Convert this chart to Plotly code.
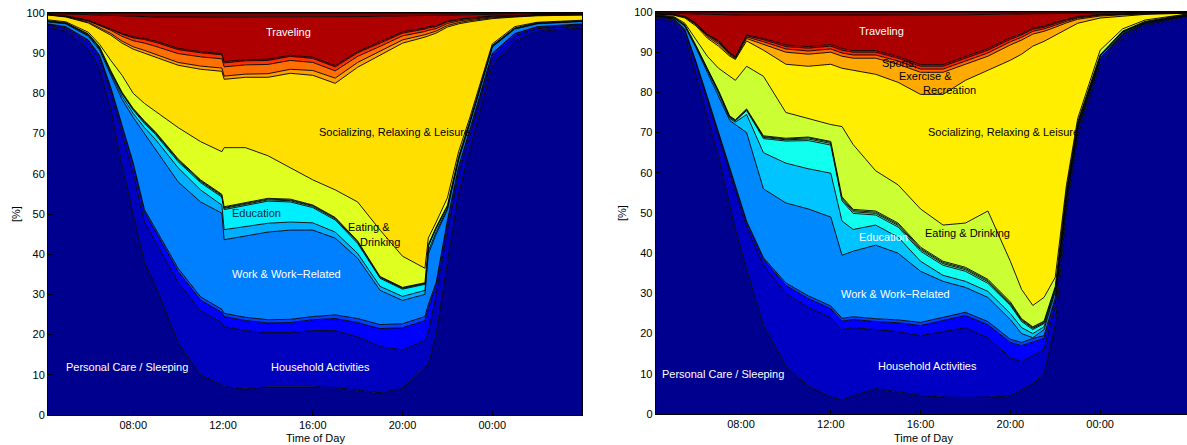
import numpy as np
import plotly.graph_objects as go

# ---------------- LEFT PANEL (cumulative band tops in %, thin bands as thickness) ----------------
t_left = [4.2, 5, 6, 6.5, 7, 7.5, 8, 8.5, 9, 10, 11, 11.95, 12.05, 13, 14, 15, 16, 17, 18, 19, 20,
          21, 21.15, 21.5, 22, 22.5, 23, 24, 25, 26, 28]
personal_top_left = [96.5, 95.5, 91, 86, 76, 62, 50, 38, 32, 18, 10, 7.5, 7, 6.5, 7, 7, 7, 6.8, 6.2, 5.5, 6.6,
                     12, 12.5, 20, 38, 55, 66, 87, 93, 95.4, 96.3]
household_top_left = [97.0, 96.2, 92.5, 88.5, 80, 70, 60, 48, 43, 33, 26, 23, 22, 21, 20.5, 20.5, 21, 21, 19.5, 17, 16.2,
                      18.5, 20.5, 30, 46, 60, 69.5, 89, 94.3, 96.1, 96.9]
care_hh_left = [0.2, 0.3, 0.6, 0.8, 1.2, 1.8, 2.2, 2.5, 2.6, 2.7, 2.6, 2.5, 2.5, 2.5, 2.4, 2.5, 2.7, 3.0, 3.5, 4.5, 5.5,
                5.0, 6.0, 2.5, 2.0, 1.5, 1.2, 0.8, 0.5, 0.4, 0.3]
care_nonhh_left = [0.1, 0.1, 0.2, 0.2, 0.3, 0.4, 0.5, 0.6, 0.7, 0.8, 0.8, 0.8, 0.8, 0.8, 0.8, 0.8, 0.8, 0.9, 1.0, 1.0, 1.0,
                   1.0, 1.0, 0.5, 0.4, 0.3, 0.3, 0.2, 0.1, 0.1, 0.1]
work_top_left = [97.8, 97.3, 94.2, 90.8, 84.5, 78.5, 74, 70, 66, 58, 53, 50.2, 43.6, 44.5, 45.5, 46, 46, 44, 39, 31, 28.5,
                 30, 40, 45, 51, 63.5, 72.5, 91.5, 96, 97.3, 97.9]
education_left = [0.1, 0.1, 0.2, 0.3, 0.5, 0.8, 1.0, 1.5, 2.5, 3.5, 3.0, 2.0, 2.5, 2.4, 2.2, 2.0, 1.8, 1.5, 1.2, 1.0, 1.0,
                  1.0, 0.8, 0.6, 0.4, 0.3, 0.2, 0.1, 0.1, 0.1, 0.05]
purchases_left = [0.1, 0.1, 0.2, 0.3, 0.4, 0.6, 0.8, 1.0, 1.2, 1.5, 1.8, 2.0, 5.0, 5.2, 5.5, 5.0, 3.8, 3.0, 2.5, 2.0, 1.8,
                  1.5, 1.2, 0.8, 0.5, 0.3, 0.3, 0.2, 0.1, 0.1, 0.05]
services_left = [0.05, 0.05, 0.1, 0.1, 0.1, 0.2, 0.2, 0.3, 0.3, 0.3, 0.3, 0.3, 0.3, 0.3, 0.3, 0.3, 0.3, 0.3, 0.3, 0.2, 0.2,
                 0.2, 0.2, 0.2, 0.1, 0.1, 0.1, 0.05, 0.05, 0.05, 0.05]
hh_services_left = [0.02, 0.02, 0.05, 0.05, 0.1, 0.1, 0.15, 0.2, 0.2, 0.2, 0.2, 0.2, 0.2, 0.2, 0.2, 0.2, 0.2, 0.2, 0.2, 0.15,
                    0.15, 0.1, 0.1, 0.1, 0.1, 0.05, 0.05, 0.05, 0.02, 0.02, 0.02]
civic_left = [0.02, 0.02, 0.05, 0.05, 0.05, 0.1, 0.1, 0.15, 0.15, 0.2, 0.2, 0.2, 0.2, 0.2, 0.2, 0.2, 0.15, 0.15, 0.1, 0.1,
              0.1, 0.1, 0.1, 0.1, 0.05, 0.05, 0.05, 0.05, 0.02, 0.02, 0.02]
eating_top_left = [98.3, 97.8, 95.2, 92.2, 88.2, 84.5, 80, 77.5, 75.5, 71.5, 68, 65.5, 66.5, 66.5, 64.5, 61.5, 58.5, 56, 53,
                   46, 39.5, 36.5, 44, 48, 54, 65.5, 74, 92.3, 96.6, 97.7, 98.2]
social_top_left = [99.5, 99.0, 97.5, 96, 94.5, 92.5, 91, 90, 89, 87, 86, 85.5, 83.5, 84, 84, 85, 84.5, 82.5, 86.5, 89.5,
                   92.5, 94, 94.3, 95, 96.5, 97.3, 97.8, 98.6, 99.0, 99.3, 99.5]
sports_left = [0.05, 0.1, 0.2, 0.3, 0.4, 0.5, 0.6, 0.7, 0.7, 0.7, 0.8, 0.8, 0.8, 0.8, 0.9, 1.0, 1.2, 1.3, 1.2, 1.0, 0.8,
               0.6, 0.6, 0.5, 0.4, 0.3, 0.3, 0.2, 0.1, 0.1, 0.05]
religious_left = [0.05, 0.1, 0.3, 0.5, 0.8, 1.2, 1.5, 1.8, 2.0, 2.2, 2.3, 2.3, 2.3, 2.3, 2.3, 2.2, 2.0, 1.8, 1.5, 1.2, 1.0,
                  0.8, 0.8, 0.6, 0.5, 0.4, 0.3, 0.2, 0.1, 0.1, 0.05]
volunteer_left = [0.05, 0.05, 0.1, 0.2, 0.3, 0.5, 0.7, 0.9, 1.0, 1.0, 1.0, 1.0, 1.0, 1.0, 1.0, 1.0, 1.0, 1.0, 0.9, 0.8, 0.7,
                  0.6, 0.6, 0.5, 0.4, 0.3, 0.3, 0.2, 0.1, 0.1, 0.05]
phone_left = [0.05, 0.05, 0.1, 0.1, 0.2, 0.2, 0.3, 0.3, 0.3, 0.3, 0.3, 0.3, 0.3, 0.3, 0.3, 0.3, 0.3, 0.3, 0.3, 0.3, 0.3,
              0.3, 0.3, 0.2, 0.2, 0.2, 0.1, 0.1, 0.05, 0.05, 0.05]
travel_top_left = [99.85, 99.8, 99.6, 99.5, 99.4, 99.3, 99.2, 99.1, 99.0, 99.0, 99.0, 99.0, 99.0, 99.0, 99.0, 99.0, 99.0,
                   99.0, 99.1, 99.2, 99.3, 99.5, 99.5, 99.55, 99.6, 99.65, 99.7, 99.75, 99.8, 99.85, 99.9]

# ---------------- RIGHT PANEL ----------------
t_right = [4.2, 5, 5.5, 6, 6.5, 7, 7.5, 7.75, 8.25, 9, 10, 11, 12, 12.5, 13, 14, 15, 16, 17, 18, 19, 20, 20.5,
           21, 21.5, 22, 22.5, 23, 24, 25, 26, 27.87]
personal_top_right = [98.5, 97.7, 94, 84, 74, 64, 52, 46, 36, 22, 12, 7, 4.2, 3.5, 4.5, 6.3, 5.5, 4.6, 4.2, 4.1, 4.2,
                      4.5, 6, 7.5, 10, 22, 51, 69, 87, 93.5, 96.6, 98.9]
household_top_right = [98.9, 98.2, 95.3, 87, 78, 69, 60, 55.5, 46.5, 37, 30, 26.5, 24, 21, 21.5, 21, 20.5, 19.5, 20.5,
                       21.5, 19, 14, 13, 14.5, 16, 27, 53, 70.5, 88, 94.2, 97.0, 99.1]
care_hh_right = [0.1, 0.15, 0.3, 0.5, 0.7, 0.8, 1.0, 1.1, 1.2, 1.5, 2.0, 2.2, 2.2, 2.1, 2.0, 2.0, 2.2, 2.5, 2.8, 3.0, 3.2,
                 3.8, 4.0, 3.5, 2.8, 1.5, 0.8, 0.6, 0.4, 0.3, 0.2, 0.1]
care_nonhh_right = [0.05, 0.05, 0.1, 0.1, 0.2, 0.2, 0.3, 0.3, 0.3, 0.4, 0.6, 0.7, 0.7, 0.7, 0.7, 0.7, 0.7, 0.8, 0.8, 0.8,
                    0.8, 0.8, 0.8, 0.8, 0.7, 0.4, 0.2, 0.2, 0.1, 0.1, 0.1, 0.05]
work_top_right = [99.1, 98.6, 96.5, 91, 85, 79, 73, 72, 70, 56, 52.5, 51, 49, 39.5, 40.5, 42, 40, 35.5, 33, 31.5, 29,
                  23.5, 20, 19, 21, 30.5, 55, 72, 89, 94.9, 97.5, 99.3]
education_right = [0.05, 0.05, 0.1, 0.3, 0.5, 0.8, 0.5, 0.6, 4.5, 9, 9.9, 10, 10.9, 8.5, 5.4, 5, 4, 2.5, 1.5, 1.5, 1.5,
                   1.5, 1.5, 1.0, 0.7, 0.4, 0.3, 0.2, 0.1, 0.1, 0.05, 0.05]
purchases_right = [0.05, 0.05, 0.1, 0.2, 0.3, 0.4, 0.3, 0.3, 1.0, 3.5, 5.5, 7, 7, 5, 4, 2.5, 2.5, 2.5, 2.5, 2.5, 2, 2,
                   1.5, 1.0, 0.8, 0.5, 0.3, 0.2, 0.1, 0.1, 0.05, 0.05]
services_right = [0.02, 0.02, 0.05, 0.05, 0.1, 0.1, 0.1, 0.1, 0.2, 0.3, 0.3, 0.4, 0.4, 0.4, 0.4, 0.4, 0.4, 0.4, 0.4, 0.4,
                  0.4, 0.3, 0.3, 0.3, 0.2, 0.1, 0.1, 0.1, 0.05, 0.05, 0.02, 0.02]
hh_services_right = [0.02, 0.02, 0.05, 0.05, 0.05, 0.1, 0.1, 0.1, 0.1, 0.2, 0.2, 0.3, 0.3, 0.3, 0.3, 0.3, 0.3, 0.3, 0.3,
                     0.3, 0.3, 0.3, 0.2, 0.2, 0.2, 0.1, 0.1, 0.1, 0.05, 0.05, 0.02, 0.02]
civic_right = [0.02, 0.02, 0.05, 0.05, 0.05, 0.05, 0.1, 0.1, 0.1, 0.2, 0.2, 0.2, 0.2, 0.3, 0.3, 0.3, 0.3, 0.3, 0.3, 0.3,
               0.3, 0.3, 0.2, 0.2, 0.2, 0.1, 0.1, 0.1, 0.05, 0.05, 0.02, 0.02]
eating_top_right = [99.3, 98.9, 97.2, 93, 89, 86, 84, 83, 86.5, 84, 75, 73.5, 72, 71.5, 67, 60.5, 57, 51, 47, 47.5, 50.5,
                    38, 31, 27, 29, 34, 57, 73.5, 90.5, 95.8, 98.0, 99.5]
social_top_right = [99.5, 99.2, 98.5, 96.5, 93.5, 91.5, 89, 88.2, 92.8, 90.5, 87, 86.5, 87, 86, 85.5, 84.5, 82.5, 79.5,
                    79.5, 83, 85.5, 88, 89.5, 91.5, 92.7, 94.2, 95.8, 97.2, 98.5, 99.0, 99.4, 99.7]
sports_right = [0.05, 0.1, 0.2, 0.3, 0.4, 0.5, 0.3, 0.2, 0.6, 1.5, 3, 3, 3, 3, 3, 4, 4.5, 5.5, 5.5, 4, 3.5, 3.8, 3.5, 3,
                2.5, 2, 1.5, 1, 0.5, 0.3, 0.15, 0.05]
religious_right = [0.03, 0.05, 0.1, 0.2, 0.3, 0.4, 0.3, 0.2, 0.4, 0.6, 0.8, 0.8, 0.8, 0.8, 0.8, 0.8, 0.8, 0.8, 0.8, 0.8,
                   0.8, 0.8, 0.7, 0.7, 0.6, 0.5, 0.4, 0.3, 0.2, 0.1, 0.05, 0.03]
volunteer_right = [0.03, 0.05, 0.1, 0.1, 0.2, 0.3, 0.2, 0.2, 0.3, 0.5, 0.6, 0.7, 0.7, 0.7, 0.7, 0.7, 0.7, 0.7, 0.7, 0.7,
                   0.7, 0.6, 0.6, 0.5, 0.4, 0.4, 0.3, 0.2, 0.15, 0.1, 0.05, 0.03]
phone_right = [0.02, 0.05, 0.1, 0.1, 0.1, 0.2, 0.1, 0.1, 0.2, 0.3, 0.4, 0.4, 0.4, 0.4, 0.4, 0.4, 0.4, 0.4, 0.4, 0.4, 0.4,
               0.4, 0.3, 0.3, 0.3, 0.3, 0.2, 0.2, 0.1, 0.1, 0.05, 0.02]
travel_top_right = [99.85, 99.8, 99.6, 99.5, 99.4, 99.3, 99.2, 99.2, 99.2, 99.2, 99.2, 99.2, 99.2, 99.2, 99.2, 99.2,
                    99.2, 99.2, 99.3, 99.3, 99.4, 99.5, 99.5, 99.6, 99.6, 99.7, 99.7, 99.75, 99.8, 99.85, 99.9, 99.9]

tick_hours = [8, 12, 16, 20, 24]
tick_labels = ["08:00", "12:00", "16:00", "20:00", "00:00"]

colors_left = ["#00008F", "#0000BF", "#0000FF", "#0040FF", "#0080FF", "#00AFFF", "#00EFFF", "#30FFCF",
               "#70FF8F", "#9FFF60", "#DFFF20", "#FFDF00", "#FF9F00", "#FF7000", "#FF3000", "#EF0000",
               "#AF0000", "#800000"]
colors_right = ["#00008F", "#0000C4", "#0000FF", "#0040FF", "#0088FF", "#00C4FF", "#10FFEF", "#40FFBF",
                "#80FF80", "#A8FF58", "#CCFF33", "#FFEE00", "#FFAA00", "#FF6600", "#FF2200", "#EE0000",
                "#AA0000", "#800000"]


def band_shares(pc, hh, c3, c4, wk, ed, pu, sv, hs, cv, ea, so, sp, rl, vo, ph, tr):
    a = [np.asarray(v, dtype=float) for v in (pc, hh, c3, c4, wk, ed, pu, sv, hs, cv, ea, so, sp, rl, vo, ph, tr)]
    pc, hh, c3, c4, wk, ed, pu, sv, hs, cv, ea, so, sp, rl, vo, ph, tr = a
    return [pc, hh - pc, c3, c4, wk - hh - c3 - c4, ed, pu, sv, hs, cv,
            ea - wk - ed - pu - sv - hs - cv, so - ea, sp, rl, vo, ph,
            tr - so - sp - rl - vo - ph, 100 - tr]


left = band_shares(personal_top_left, household_top_left, care_hh_left, care_nonhh_left, work_top_left,
                   education_left, purchases_left, services_left, hh_services_left, civic_left,
                   eating_top_left, social_top_left, sports_left, religious_left, volunteer_left,
                   phone_left, travel_top_left)
right = band_shares(personal_top_right, household_top_right, care_hh_right, care_nonhh_right, work_top_right,
                    education_right, purchases_right, services_right, hh_services_right, civic_right,
                    eating_top_right, social_top_right, sports_right, religious_right, volunteer_right,
                    phone_right, travel_top_right)

fig = go.Figure()
for i, ys in enumerate(left):
    fig.add_trace(go.Scatter(x=t_left, y=ys, stackgroup="L", mode="lines",
                             line=dict(color="black", width=0.9), fillcolor=colors_left[i],
                             xaxis="x", yaxis="y", showlegend=False, hoverinfo="skip"))
for i, ys in enumerate(right):
    fig.add_trace(go.Scatter(x=t_right, y=ys, stackgroup="R", mode="lines",
                             line=dict(color="black", width=0.9), fillcolor=colors_right[i],
                             xaxis="x2", yaxis="y2", showlegend=False, hoverinfo="skip"))

W, H = 1187, 445
font = dict(family="Liberation Sans, Arial, sans-serif", size=11, color="black")
axis_common = dict(showline=True, mirror=True, linecolor="black", linewidth=1, ticks="inside", ticklen=4,
                   tickcolor="black", showgrid=False, zeroline=False, tickfont=font, automargin=False)

fig.update_layout(
    template="none",
    width=W, height=H, margin=dict(l=0, r=0, t=0, b=0, pad=0),
    paper_bgcolor="white", plot_bgcolor="white", font=font,
    xaxis=dict(domain=[48 / W, 582 / W], range=[4.2, 28], tickvals=tick_hours, ticktext=tick_labels,
               anchor="y", **axis_common),
    yaxis=dict(domain=[30 / H, 432 / H], range=[0, 100], tickvals=list(range(0, 101, 10)), anchor="x",
               **axis_common),
    xaxis2=dict(domain=[655.7 / W, 1.0], range=[4.2, 27.87], tickvals=tick_hours, ticktext=tick_labels,
                anchor="y2", **axis_common),
    yaxis2=dict(domain=[31 / H, 433 / H], range=[0, 100], tickvals=list(range(0, 101, 10)), anchor="x2",
                **axis_common),
)

def lab(text, x, y, color, xa="x", ya="y", size=11):
    fig.add_annotation(text=text, x=x, y=y, xref=xa, yref=ya, showarrow=False,
                       xanchor="center", yanchor="middle",
                       font=dict(family=font["family"], size=size, color=color))

# left labels
lab("Traveling", 14.9, 95.2, "white")
lab("Socializing, Relaxing &amp; Leisure", 19.65, 70.3, "black")
lab("Education", 13.5, 50.2, "#0a2a3a")
lab("Eating &amp;", 18.5, 46.8, "black")
lab("Drinking", 19.0, 43.0, "black")
lab("Work &amp; Work\u2212Related", 14.85, 35.0, "white")
lab("Household Activities", 16.35, 12.0, "white")
lab("Personal Care / Sleeping", 7.7, 12.0, "white")
# right labels
lab("Traveling", 14.24, 95.2, "white", "x2", "y2")
lab("Sports,", 15.08, 87.3, "black", "x2", "y2")
lab("Exercise &amp;", 16.24, 84.0, "black", "x2", "y2")
lab("Recreation", 17.27, 80.7, "black", "x2", "y2")
lab("Socializing, Relaxing &amp; Leisure", 19.69, 70.1, "black", "x2", "y2")
lab("Education", 14.33, 44.1, "white", "x2", "y2")
lab("Eating &amp; Drinking", 18.07, 45.0, "black", "x2", "y2")
lab("Work &amp; Work\u2212Related", 14.88, 29.9, "white", "x2", "y2")
lab("Household Activities", 16.3, 11.9, "white", "x2", "y2")
lab("Personal Care / Sleeping", 7.18, 9.95, "white", "x2", "y2")

# axis titles
for xc in (315, 923):
    fig.add_annotation(text="Time of Day", x=xc / W, y=1 - 438 / H, xref="paper", yref="paper", showarrow=False,
                       xanchor="center", yanchor="middle", font=font)
for xc, yc in ((16, 214), (622, 213)):
    fig.add_annotation(text="[%]", x=xc / W, y=1 - yc / H, xref="paper", yref="paper", showarrow=False,
                       xanchor="center", yanchor="middle", textangle=-90, font=font)

fig.write_html("out.html")
